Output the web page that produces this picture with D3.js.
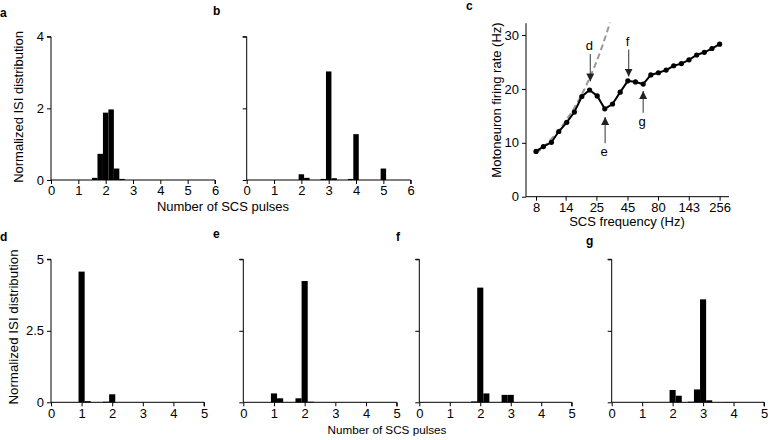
<!DOCTYPE html>
<html><head><meta charset="utf-8">
<script src="https://cdn.jsdelivr.net/npm/d3@7"></script>
<style>
body{margin:0;background:#fff;}
svg{display:block;font-family:Arial,"Liberation Sans",sans-serif;}
.axis path,.axis line{stroke:#000;stroke-width:1;}
</style></head>
<body>
<svg id="c" width="768" height="440"></svg>
<script>
// ---- Data ----
const histA_x = [1.6, 1.8, 2.0, 2.2, 2.4, 2.6];
const histA_y = [0.06, 0.73, 1.88, 1.97, 0.32, 0.03];
const histB_x = [2.0, 2.2, 2.8, 3.0, 3.2, 3.8, 4.0, 5.0];
const histB_y = [0.16, 0.06, 0.03, 3.03, 0.05, 0.03, 1.28, 0.32];
const histD_x = [1.0, 1.2, 1.8, 2.0];
const histD_y = [4.57, 0.04, 0.02, 0.28];
const histE_x = [1.0, 1.2, 1.8, 2.0, 2.2];
const histE_y = [0.31, 0.14, 0.14, 4.24, 0.02];
const histF_x = [1.8, 2.0, 2.2, 2.8, 3.0];
const histF_y = [0.03, 4.01, 0.31, 0.26, 0.26];
const histG_x = [2.0, 2.2, 2.6, 2.8, 3.0, 3.2, 3.8];
const histG_y = [0.43, 0.23, 0.02, 0.45, 3.6, 0.07, 0.01];
const binWidth = 0.2;

const scsFreq = [8, 9.2, 10.7, 12.3, 14.3, 16.5, 19, 22, 25.4, 29.3, 33.9, 39.2, 45.3,
                 52.3, 60.5, 69.9, 80.6, 93.3, 107.6, 124.5, 143.7, 166, 191.8, 221.6, 256];
const mnRate = [8.4, 9.3, 10.1, 12.1, 13.8, 15.7, 18.6, 19.8, 18.7, 16.3, 17.2, 19.4, 21.5,
                21.3, 20.9, 22.6, 23.0, 23.5, 24.3, 24.7, 25.4, 26.3, 26.8, 27.5, 28.3];
const identFreq = [8, 10, 12, 14, 16, 18, 20, 22, 24, 26, 28, 30, 32.3];
const identRate = [8, 10, 12, 14, 16, 18, 20, 22, 24, 26, 28, 30, 32.3];
const freqTicks = [8, 14, 25, 45, 80, 143, 256];
const rateTicks = [0, 10, 20, 30];
const topHistYTicks = [0, 2, 4];
const topHistXTicks = [0, 1, 2, 3, 4, 5, 6];
const botHistYTicks = [0, 2.5, 5];
const botHistXTicks = [0, 1, 2, 3, 4, 5];
// arrows: label, freq, tip rate, tail rate
const arrowLabels = ["d", "e", "f", "g"];
const arrowFreq = [22.3, 29.5, 46, 60.5];
const arrowTip = [21.4, 14.8, 22.3, 19.6];
const arrowTail = [26.5, 9.9, 27.3, 15.6];

const svg = d3.select("#c");
const font = 'Arial,"Liberation Sans",sans-serif';

function styleAxis(s) {
  s.attr("font-size", 13).attr("font-family", font);
  s.selectAll("text").attr("font-size", 13).attr("font-family", font).attr("fill", "#000");
}

function hist(xs, ys, xr, yr, xdom, ydom, yticks, xticks, yLabels, yFmt) {
  const x = d3.scaleLinear().domain(xdom).range(xr);
  const y = d3.scaleLinear().domain(ydom).range(yr);
  const g = svg.append("g");
  g.selectAll("rect").data(xs).join("rect")
    .attr("x", (d) => x(d - binWidth / 2))
    .attr("width", x(binWidth) - x(0))
    .attr("y", (d, i) => y(ys[i]))
    .attr("height", (d, i) => y(0) - y(ys[i]))
    .attr("fill", "#000");
  const ya = d3.axisLeft(y).tickValues(yticks).tickSize(4).tickPadding(3)
    .tickFormat(yLabels ? yFmt : () => "");
  g.append("g").attr("class", "axis").attr("transform", `translate(${xr[0]},0)`).call(ya)
    .call(styleAxis)
    .call(s => s.select(".domain").attr("d", `M-4,${yr[1]}H0V${yr[0]}`));
  const xa = d3.axisBottom(x).tickValues(xticks).tickSize(4).tickPadding(2).tickFormat(d3.format("d"));
  g.append("g").attr("class", "axis").attr("transform", `translate(0,${yr[0]})`).call(xa)
    .call(styleAxis)
    .call(s => s.select(".domain").attr("d", `M${xr[0]},0H${xr[1]}V4`));
  return g;
}

const topY = [180, 36.7];
hist(histA_x, histA_y, [51, 215], topY, [0, 6], [0, 4], topHistYTicks, topHistXTicks, true, d3.format("d"));
hist(histB_x, histB_y, [246.7, 410.7], topY, [0, 6], [0, 4], topHistYTicks, topHistXTicks, false);
const botY = [402.3, 259.3];
const fmtBot = d => d === 2.5 ? "2.5" : d3.format("d")(d);
hist(histD_x, histD_y, [51, 204], botY, [0, 5], [0, 5], botHistYTicks, botHistXTicks, true, fmtBot);
hist(histE_x, histE_y, [243.3, 396.7], botY, [0, 5], [0, 5], botHistYTicks, botHistXTicks, false);
hist(histF_x, histF_y, [419.3, 571.7], botY, [0, 5], [0, 5], botHistYTicks, botHistXTicks, false);
hist(histG_x, histG_y, [611.7, 764], botY, [0, 5], [0, 5], botHistYTicks, botHistXTicks, false);

// ---- Panel c ----
const inner = d3.scaleLog().base(2).domain([8, 256]).range([536, 719.6]);
const cx = d3.scaleLog().base(2).domain([inner.invert(526), inner.invert(729)]).range([526, 729]);
const cy = d3.scaleLinear().domain([0, 32.2]).range([196.7, 23.2]);
const gc = svg.append("g");
gc.append("path")
  .datum(identFreq.map((f, i) => [f, identRate[i]]))
  .attr("d", d3.line().x(d => cx(d[0])).y(d => cy(d[1])))
  .attr("fill", "none").attr("stroke", "#999").attr("stroke-width", 2).attr("stroke-dasharray", "6,3.5");
const pts = scsFreq.map((f, i) => [f, mnRate[i]]);
gc.append("path").datum(pts)
  .attr("d", d3.line().x(d => cx(d[0])).y(d => cy(d[1])))
  .attr("fill", "none").attr("stroke", "#000").attr("stroke-width", 2);
gc.selectAll("circle").data(pts).join("circle")
  .attr("cx", d => cx(d[0])).attr("cy", d => cy(d[1])).attr("r", 2.6).attr("fill", "#000");

gc.append("g").attr("class", "axis").attr("transform", "translate(526,0)")
  .call(d3.axisLeft(cy).tickValues(rateTicks).tickSize(4).tickPadding(3).tickFormat(d3.format("d")))
  .call(styleAxis)
  .call(s => s.select(".domain").attr("d", `M0,${cy(32.2)}V${cy(0)}`));
gc.append("g").attr("class", "axis").attr("transform", "translate(0,196.7)")
  .call(d3.axisBottom(cx).tickValues(freqTicks).tickSize(4).tickPadding(2).tickFormat(d3.format("d")))
  .call(styleAxis)
  .call(s => s.select(".domain").attr("d", `M526,0H729`));

// arrows
const defs = svg.append("defs");
defs.append("marker").attr("id", "ah").attr("viewBox", "0 0 10 10").attr("refX", 10).attr("refY", 5)
  .attr("markerWidth", 8).attr("markerHeight", 8).attr("markerUnits", "userSpaceOnUse").attr("orient", "auto")
  .append("path").attr("d", "M0,0L10,5L0,10Z").attr("fill", "#222");
arrowLabels.forEach((lab, i) => {
  const xx = cx(arrowFreq[i]);
  gc.append("line").attr("x1", xx).attr("x2", xx)
    .attr("y1", cy(arrowTail[i])).attr("y2", cy(arrowTip[i]))
    .attr("stroke", "#555").attr("stroke-width", 1.2).attr("marker-end", "url(#ah)");
  const down = arrowTail[i] > arrowTip[i];
  gc.append("text").attr("x", xx - 1).attr("y", down ? cy(arrowTail[i]) - 4 : cy(arrowTail[i]) + 13)
    .attr("text-anchor", "middle").attr("font-size", 13).attr("font-family", font).text(lab);
});

// ---- Titles / labels ----
function txt(x, y, s, size, opts = {}) {
  const t = svg.append("text").attr("x", x).attr("y", y).attr("font-size", size)
    .attr("font-family", font).attr("text-anchor", opts.anchor || "middle").text(s);
  if (opts.bold) t.attr("font-weight", "bold");
  if (opts.rot) t.attr("transform", `rotate(-90,${x},${y})`);
  return t;
}
txt(223, 211, "Number of SCS pulses", 13);
txt(387, 434, "Number of SCS pulses", 11.7);
txt(627, 226, "SCS frequency (Hz)", 13);
txt(23, 107, "Normalized ISI distribution", 13, {rot: true});
txt(18, 327, "Normalized ISI distribution", 13.3, {rot: true});
txt(501, 100, "Motoneuron firing rate (Hz)", 13, {rot: true});
txt(0, 17, "a", 12, {bold: true, anchor: "start"});
txt(213, 15, "b", 12, {bold: true, anchor: "start"});
txt(466, 10, "c", 12, {bold: true, anchor: "start"});
txt(0, 241, "d", 12, {bold: true, anchor: "start"});
txt(213, 238, "e", 12, {bold: true, anchor: "start"});
txt(396, 241, "f", 12, {bold: true, anchor: "start"});
txt(586, 245, "g", 12, {bold: true, anchor: "start"});
</script>
</body></html>
